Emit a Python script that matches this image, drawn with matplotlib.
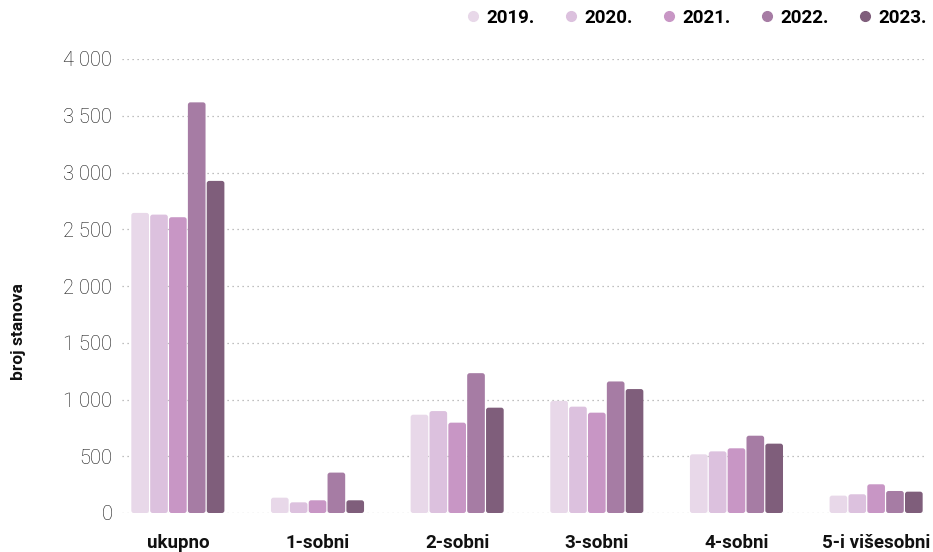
import matplotlib
matplotlib.use("Agg")
import matplotlib.pyplot as plt
from matplotlib.lines import Line2D
from matplotlib.patches import FancyBboxPatch
from matplotlib.ticker import FuncFormatter
import numpy as np

categories = ["ukupno", "1-sobni", "2-sobni", "3-sobni", "4-sobni", "5-i višesobni"]
years = ["2019.", "2020.", "2021.", "2022.", "2023."]
values = {
    "2019.": [2644, 135, 866, 988, 517, 153],
    "2020.": [2629, 94, 898, 937, 543, 165],
    "2021.": [2606, 112, 796, 884, 570, 253],
    "2022.": [3618, 356, 1232, 1159, 681, 194],
    "2023.": [2926, 112, 928, 1092, 611, 188],
}
colors = ["#e8d8e9", "#dcc1de", "#c896c5", "#a67ca4", "#7f5e7b"]
ylabel = "broj stanova"
yticks = [0, 500, 1000, 1500, 2000, 2500, 3000, 3500, 4000]

plt.rcParams["font.family"] = ["Roboto", "DejaVu Sans"]

W, H = 933, 552
fig = plt.figure(figsize=(W / 100, H / 100), dpi=100)
left, right, bottom, top = 122, 925, 513, 59
ax = fig.add_axes([left / W, (H - bottom) / H, (right - left) / W, (bottom - top) / H])

ax.set_ylim(0, 4000)
ax.set_xlim(-0.40, 5.35)

x = np.arange(len(categories))
bw = 0.135
# pixel -> data conversion for rounded corners
xpp = (5.35 + 0.40) / (right - left)
ypp = 4000 / (bottom - top)
aspect = ypp / xpp
r = 2.5 * xpp
for i, (yr, c) in enumerate(zip(years, colors)):
    bars = ax.bar(x + (i - 2) * bw, values[yr], width=bw, color=c, zorder=3)
    for b in bars:
        b.set_visible(False)
        gap = 0.6 * xpp
        p = FancyBboxPatch((b.get_x() + gap, b.get_y()), b.get_width() - 2 * gap, b.get_height(),
                           boxstyle=f"round,pad=0,rounding_size={r}",
                           mutation_aspect=aspect, facecolor=c, edgecolor="none", zorder=3)
        ax.add_patch(p)

ax.set_yticks(yticks)
ax.yaxis.set_major_formatter(FuncFormatter(lambda v, p: f"{int(v):,}".replace(",", " ")))
ax.grid(axis="y", linestyle=(0, (1, 3)), color="#aaaaaa", linewidth=0.9, zorder=0)
for s in ax.spines.values():
    s.set_visible(False)
ax.tick_params(axis="both", length=0)
ax.tick_params(axis="y", pad=7, labelsize=14.5, labelcolor="#111111")
for lab in ax.get_yticklabels():
    lab.set_fontweight("light")
ax.set_xticks(x)
ax.set_xticklabels(categories, fontsize=13.5, fontweight="bold", color="#111111")
ax.tick_params(axis="x", pad=15)
fig.text(19 / W, (H - 332) / H, ylabel, rotation=90,
         ha="center", va="center", fontsize=12.5, fontweight="bold", color="#111111")

handles = [Line2D([0], [0], marker="o", linestyle="", markersize=7,
                  markerfacecolor=c, markeredgecolor=c) for c in colors]
fig.legend(handles, years, ncol=5, loc="upper right",
           bbox_to_anchor=(927 / W, 1 - 9 / H), borderaxespad=0, borderpad=0,
           frameon=False, handletextpad=0.35, columnspacing=1.5, handlelength=0.8,
           prop={"weight": "bold", "size": 13.5})

fig.savefig("out.png", dpi=100)
